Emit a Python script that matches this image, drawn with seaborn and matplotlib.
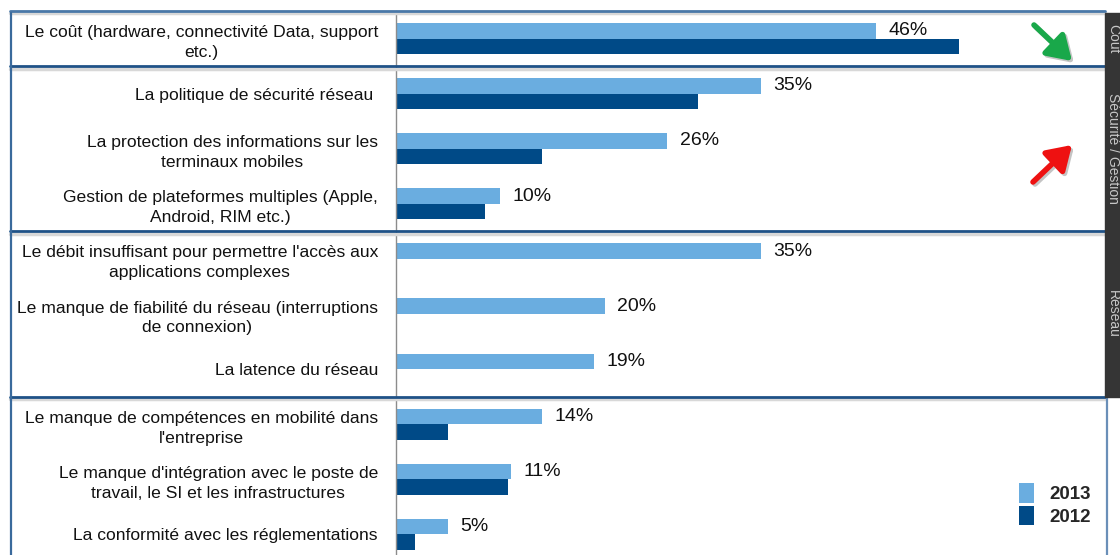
import numpy as np
import pandas as pd
import matplotlib
matplotlib.use("Agg")
import matplotlib.pyplot as plt
import matplotlib.transforms as mtransforms
import seaborn as sns

# Categories (top to bottom)
categories = [
    "Le coût (hardware, connectivité Data, support\netc.)",
    "La politique de sécurité réseau ",
    "La protection des informations sur les\nterminaux mobiles",
    "Gestion de plateformes multiples (Apple,\nAndroid, RIM etc.)",
    "Le débit insuffisant pour permettre l'accès aux\napplications complexes",
    "Le manque de fiabilité du réseau (interruptions\nde connexion)",
    "La latence du réseau",
    "Le manque de compétences en mobilité dans\nl'entreprise",
    "Le manque d'intégration avec le poste de\ntravail, le SI et les infrastructures",
    "La conformité avec les réglementations",
]
years = ["2013", "2012"]
values_2013 = [46, 35, 26, 10, 35, 20, 19, 14, 11, 5]
values_2012 = [54, 29, 14, 8.5, np.nan, np.nan, np.nan, 5, 10.7, 1.8]
group_bounds = [-0.5, 0.5, 3.5, 6.5]   # boxes: Coût / Sécurité-Gestion / Réseau / autres
side_labels = ["Coût", "Sécurité / Gestion", "Réseau"]

colors = {"2013": "#6aade0", "2012": "#004a87"}

df = pd.DataFrame({
    "cat": categories * 2,
    "year": [years[0]] * len(categories) + [years[1]] * len(categories),
    "val": values_2013 + values_2012,
})

sns.set_style("white")
plt.rcParams["font.family"] = ["Liberation Sans", "DejaVu Sans"]

W, H = 1120, 555
fig = plt.figure(figsize=(W / 100, H / 100), dpi=100)
ax = fig.add_axes([396 / W, 1 - 562 / H, (1105 - 396) / W, 551 / H])

sns.barplot(data=df, y="cat", x="val", hue="year", order=categories,
            hue_order=years, palette=colors, orient="h", width=0.565,
            saturation=1, ax=ax, linewidth=0)

ax.set_xlim(0, 68)
ax.set_ylim(len(categories) - 0.5, -0.5)
ax.set_xlabel("")
ax.set_ylabel("")
ax.set_xticks([])
for s in ["top", "right", "bottom"]:
    ax.spines[s].set_visible(False)
ax.spines["left"].set_color("#8c8c8c")
ax.spines["left"].set_linewidth(1)
ax.set_yticks(np.arange(len(categories)), labels=categories,
              linespacing=1.4, multialignment="center")
ax.tick_params(axis="y", which="major", length=0, pad=13, labelsize=12.6, labelcolor="#111111")
ax.set_yticks(np.arange(len(categories) + 1) - 0.5, minor=True)
ax.tick_params(axis="y", which="minor", length=5, color="#8c8c8c", direction="out")

# value labels for 2013
ax.bar_label(ax.containers[0], labels=[f"{v}%" for v in values_2013],
             padding=9, fontsize=14, color="#111111")

# group boxes
trans = mtransforms.blended_transform_factory(fig.transFigure, ax.transData)
x0, x1 = 10 / W, 1105 / W
for i, b in enumerate(group_bounds):
    off = 0.045
    ax.plot([x0, x1], [b + off, b + off], transform=trans, color="#d8d8d8",
            lw=2.5, clip_on=False, zorder=4)
    ax.plot([x0, x1], [b, b], transform=trans,
            color="#4a78a8" if i == 0 else "#1f5287", lw=2, clip_on=False, zorder=5)
fig.add_artist(plt.Line2D([11 / W, 11 / W], [0, 1 - 13 / H], color="#3a6a9c", lw=1.6))
fig.add_artist(plt.Line2D([1107 / W, 1107 / W], [0, 1 - 397 / H], color="#6a8fb8", lw=1.6))

# dark strip on the right
fig.add_artist(plt.Rectangle((1105 / W, 1 - 397 / H), 15 / W, 384 / H,
                             transform=fig.transFigure, color="#353535", zorder=6))
for lab, (a, b) in zip(side_labels, zip(group_bounds[:-1], group_bounds[1:])):
    t = fig.text(1113 / W, 0, lab, rotation=-90, ha="center", va="center",
                 color="#c8c8c8", fontsize=10, zorder=8)
    t.set_transform(trans)
    t.set_position((1113 / W, (a + b) / 2))

# arrows
def arrow(tail, head, color):
    style = "-|>,head_width=0.7,head_length=1.1"
    sh = (2, -2)
    ax.annotate("", xy=(head[0] + sh[0], head[1] + sh[1]), xytext=(tail[0] + sh[0], tail[1] + sh[1]),
                xycoords="figure pixels", textcoords="figure pixels",
                arrowprops=dict(arrowstyle=style, lw=4, color="#c4c4c4",
                                mutation_scale=13, shrinkA=0, shrinkB=0))
    ax.annotate("", xy=head, xytext=tail, xycoords="figure pixels", textcoords="figure pixels",
                arrowprops=dict(arrowstyle=style, lw=4, color=color,
                                mutation_scale=13, shrinkA=0, shrinkB=0))

arrow((1034, H - 25), (1072, H - 61), "#19a84a")
arrow((1033, H - 182), (1072, H - 145), "#ee1111")

# legend
handles, labels = ax.get_legend_handles_labels()
ax.legend(handles, labels, loc="upper left", bbox_to_anchor=(1010 / W, 1 - 474 / H),
          bbox_transform=fig.transFigure, frameon=False,
          prop={"weight": "bold", "size": 13.5}, handlelength=0.8, handleheight=1.2,
          handletextpad=0.8, labelspacing=0.15, borderpad=0)

fig.savefig("out.png", dpi=100)
